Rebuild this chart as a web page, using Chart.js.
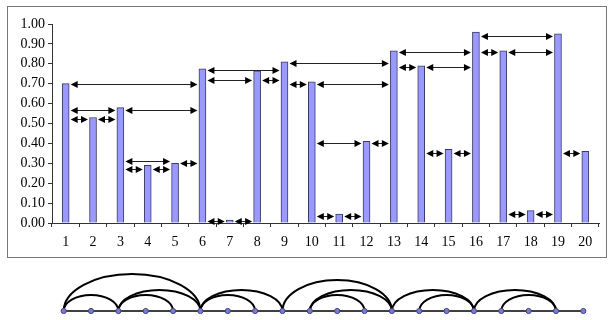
<!DOCTYPE html>
<html lang="en">
  <head>
    <meta charset="UTF-8" />
    <title>Bars with nearest-taller links</title>
    <script src="https://cdn.jsdelivr.net/npm/chart.js"></script>
    <style>
      body { margin: 0; background: #fff; }
    </style>
  </head>
  <body>
    <canvas id="barChart" width="614" height="320"></canvas>
    <script>
      const categories = ["1","2","3","4","5","6","7","8","9","10","11","12","13","14","15","16","17","18","19","20"];
      const values = [0.70, 0.53, 0.58, 0.29, 0.30, 0.775, 0.015, 0.765, 0.81, 0.71, 0.045, 0.41, 0.865, 0.79, 0.37, 0.96, 0.865, 0.062, 0.95, 0.36];

      // double-headed arrows: from bar, to bar, height
      const arrowFrom = [1, 1, 3, 1, 2, 3, 3, 4, 5, 6, 6, 8, 6, 7, 9, 9, 10, 10, 12, 10, 11, 13, 13, 14, 14, 15, 16, 16, 17, 17, 18, 19];
      const arrowTo   = [6, 3, 6, 2, 3, 5, 4, 5, 6, 9, 8, 9, 7, 8, 13, 10, 13, 12, 13, 11, 12, 16, 14, 16, 15, 16, 19, 17, 19, 18, 19, 20];
      const arrowLevel = [0.70, 0.57, 0.57, 0.525, 0.525, 0.31, 0.27, 0.27, 0.30, 0.77, 0.72, 0.72, 0.012, 0.012,
                          0.805, 0.70, 0.70, 0.40, 0.40, 0.035, 0.035, 0.86, 0.785, 0.785, 0.353, 0.353,
                          0.94, 0.86, 0.86, 0.045, 0.045, 0.353];

      // arcs of the diagram under the chart
      const arcFrom = [1, 1, 3, 3, 6, 6, 9, 10, 10, 13, 14, 16, 17];
      const arcTo   = [6, 3, 6, 5, 9, 8, 13, 13, 12, 16, 16, 19, 19];

      function arcHeight(span) {
        return { 2: 16, 3: 21, 4: 31, 5: 37 }[span] || span * 7;
      }

      const extrasPlugin = {
        id: "extras",
        afterDatasetsDraw(chart) {
          const { ctx, scales: { x, y } } = chart;
          ctx.save();
          ctx.strokeStyle = "#222";
          ctx.fillStyle = "#000";
          ctx.lineWidth = 1;
          for (let i = 0; i < arrowFrom.length; i++) {
            const x1 = x.getPixelForValue(arrowFrom[i] - 1) + 5;
            const x2 = x.getPixelForValue(arrowTo[i] - 1) - 5;
            const yy = Math.round(y.getPixelForValue(arrowLevel[i])) + 0.5;
            ctx.beginPath();
            ctx.moveTo(x1 + 5, yy);
            ctx.lineTo(x2 - 5, yy);
            ctx.stroke();
            ctx.beginPath();
            ctx.moveTo(x1, yy);
            ctx.lineTo(x1 + 7, yy - 3.5);
            ctx.lineTo(x1 + 7, yy + 3.5);
            ctx.closePath();
            ctx.fill();
            ctx.beginPath();
            ctx.moveTo(x2, yy);
            ctx.lineTo(x2 - 7, yy - 3.5);
            ctx.lineTo(x2 - 7, yy + 3.5);
            ctx.closePath();
            ctx.fill();
          }
          ctx.restore();
        },
        afterDraw(chart) {
          const { ctx, scales: { x } } = chart;
          ctx.save();
          // frame round the chart
          ctx.strokeStyle = "#777";
          ctx.lineWidth = 1;
          ctx.strokeRect(7.5, 6.5, 599, 251);

          // arc diagram
          const baseY = 311;
          const nx = (n) => x.getPixelForValue(n - 1) - 2;
          ctx.strokeStyle = "#000";
          ctx.lineWidth = 1.6;
          ctx.beginPath();
          ctx.moveTo(nx(1), baseY);
          ctx.lineTo(nx(categories.length), baseY);
          ctx.stroke();
          ctx.lineWidth = 2;
          for (let i = 0; i < arcFrom.length; i++) {
            const a = nx(arcFrom[i]);
            const b = nx(arcTo[i]);
            ctx.beginPath();
            ctx.ellipse((a + b) / 2, baseY, (b - a) / 2, arcHeight(arcTo[i] - arcFrom[i]), 0, Math.PI, 2 * Math.PI);
            ctx.stroke();
          }
          ctx.fillStyle = "#7b7bd6";
          ctx.strokeStyle = "#44447a";
          ctx.lineWidth = 1;
          for (let n = 1; n <= categories.length; n++) {
            ctx.beginPath();
            ctx.arc(nx(n), baseY, 2.6, 0, 2 * Math.PI);
            ctx.fill();
            ctx.stroke();
          }
          ctx.restore();
        },
      };

      const tickFont = { family: "'Liberation Serif', 'Times New Roman', serif", size: 14 };

      new Chart(document.getElementById("barChart").getContext("2d"), {
        type: "bar",
        data: {
          labels: categories,
          datasets: [
            {
              data: values,
              backgroundColor: "#9999ff",
              borderColor: "#3a3a66",
              borderWidth: 1,
              barThickness: 7,
            },
          ],
        },
        options: {
          responsive: false,
          animation: false,
          layout: { padding: { left: 0, top: 24, right: 15, bottom: 67 } },
          plugins: { legend: { display: false }, tooltip: { enabled: false } },
          scales: {
            x: {
              offset: true,
              grid: { offset: true, drawOnChartArea: false, drawTicks: true, tickLength: 4, color: "#333" },
              border: { color: "#333" },
              ticks: { color: "#000", font: tickFont, padding: 7, maxRotation: 0, autoSkip: false },
              afterFit(scale) { scale.height = 30; },
            },
            y: {
              min: 0,
              max: 1,
              grid: { drawOnChartArea: false, drawTicks: true, tickLength: 4, color: "#333" },
              border: { color: "#333" },
              ticks: {
                stepSize: 0.1,
                color: "#000",
                font: tickFont,
                padding: 3,
                callback: (v) => v.toFixed(2),
              },
              afterFit(scale) { scale.width = 52; },
            },
          },
        },
        plugins: [extrasPlugin],
      });
    </script>
  </body>
</html>
